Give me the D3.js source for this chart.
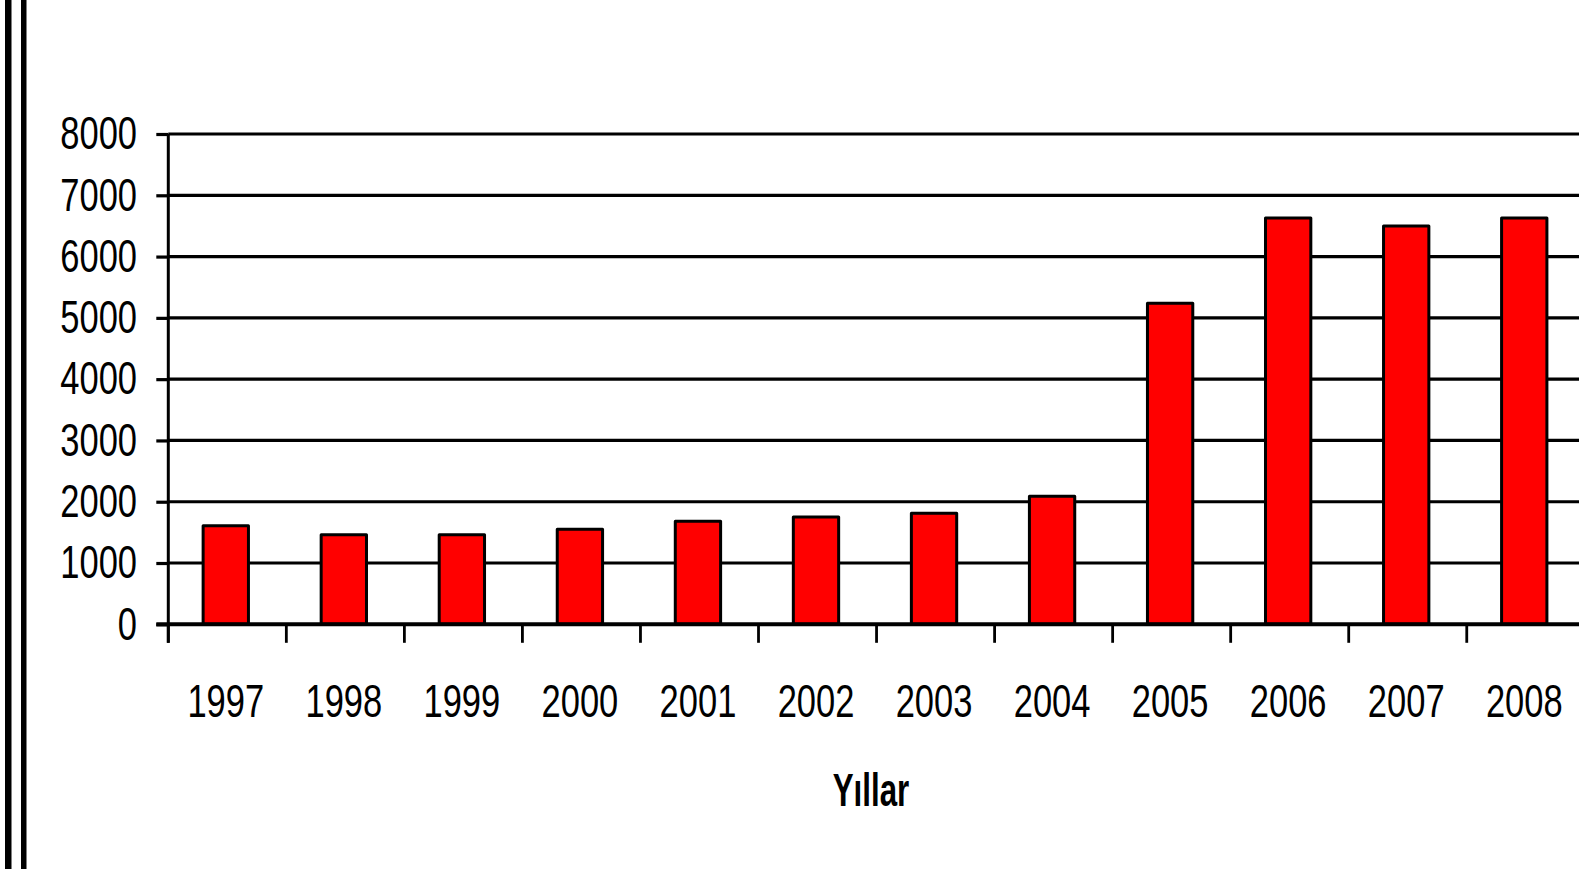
<!DOCTYPE html>
<html>
<head>
<meta charset="utf-8">
<script src="https://cdn.jsdelivr.net/npm/d3@7"></script>
<style>
  html, body { margin: 0; padding: 0; background: #fff; }
  svg { display: block; }
  text { font-family: "Liberation Sans", Arial, sans-serif; fill: #000; }
</style>
</head>
<body>
<svg id="chart" width="1579" height="869"></svg>
<script>
// ---- data ----
const years = ["1997","1998","1999","2000","2001","2002","2003","2004","2005","2006","2007","2008"];
const values = [1610, 1460, 1460, 1550, 1680, 1750, 1810, 2090, 5240, 6630, 6500, 6630];
const yTickValues = [0, 1000, 2000, 3000, 4000, 5000, 6000, 7000, 8000];
const xAxisTitle = "Yıllar";

// ---- layout ----
const W = 1579, H = 869;
const plotLeft = 168.3, plotRight = 1584.8, plotTop = 134, plotBottom = 624.3;
const fontSize = 46, sx = 0.75, sxBold = 0.68;

const svg = d3.select("#chart");

// frame lines on the left
svg.append("rect").attr("x", 5).attr("y", 0).attr("width", 6.5).attr("height", H).attr("fill", "#000");
svg.append("rect").attr("x", 21).attr("y", 0).attr("width", 5.5).attr("height", H).attr("fill", "#000");

const x = d3.scaleBand().domain(years).range([plotLeft, plotRight]).padding(0);
const y = d3.scaleLinear().domain([0, 8000]).range([plotBottom, plotTop]);

// gridlines
svg.append("g").selectAll("line").data(yTickValues.filter(d => d > 0)).join("line")
  .attr("x1", plotLeft).attr("x2", W)
  .attr("y1", d => y(d)).attr("y2", d => y(d))
  .attr("stroke", "#000").attr("stroke-width", 3.2);

// bars
const bw = x.bandwidth();
svg.append("g").selectAll("rect").data(years.map((c, i) => ({c, v: values[i]}))).join("rect")
  .attr("x", d => x(d.c) + bw * 0.295)
  .attr("width", bw * 0.384)
  .attr("y", d => y(d.v))
  .attr("height", d => y(0) - y(d.v))
  .attr("fill", "#ff0000")
  .attr("stroke", "#000")
  .attr("stroke-width", 3)
  .attr("stroke-linejoin", "round");

// y axis
const yAxis = d3.axisLeft(y).tickValues(yTickValues).tickSize(12).tickFormat("");
const gy = svg.append("g").attr("transform", `translate(${plotLeft},0)`).call(yAxis);
gy.select(".domain").attr("stroke-width", 3).attr("d", `M0,${plotTop}V${plotBottom + 18.5}`);
gy.selectAll(".tick line").attr("stroke-width", 3.2);

// y tick labels
svg.append("g").selectAll("text").data(yTickValues).join("text")
  .attr("transform", d => `translate(137,${y(d) + 15.3}) scale(${sx},1)`)
  .attr("text-anchor", "end")
  .attr("font-size", fontSize)
  .text(d => d);

// x axis baseline
svg.append("line").attr("x1", plotLeft - 12).attr("x2", W)
  .attr("y1", y(0)).attr("y2", y(0))
  .attr("stroke", "#000").attr("stroke-width", 4);

// x ticks at band boundaries
svg.append("g").selectAll("line").data(years).join("line")
  .attr("x1", d => x(d)).attr("x2", d => x(d))
  .attr("y1", y(0)).attr("y2", y(0) + 18.5)
  .attr("stroke", "#000").attr("stroke-width", 2.8);

// x tick labels
svg.append("g").selectAll("text").data(years).join("text")
  .attr("transform", d => `translate(${x(d) + bw * 0.487},716.7) scale(${sx},1)`)
  .attr("text-anchor", "middle")
  .attr("font-size", fontSize)
  .text(d => d);

// x axis title
svg.append("text")
  .attr("transform", `translate(871,806) scale(${sxBold},1)`)
  .attr("text-anchor", "middle")
  .attr("font-size", fontSize)
  .attr("font-weight", "bold")
  .text(xAxisTitle);
</script>
</body>
</html>
